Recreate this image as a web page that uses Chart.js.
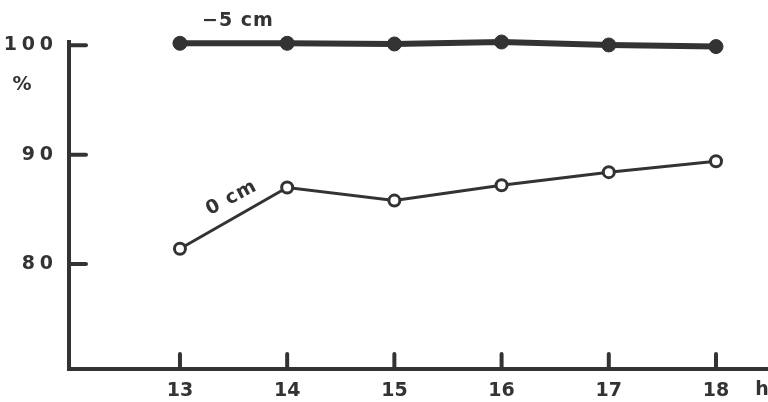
<!DOCTYPE html>
<html>
<head>
<meta charset="utf-8">
<script src="https://cdn.jsdelivr.net/npm/chart.js@4/dist/chart.umd.min.js"></script>
<style>
  html, body { margin: 0; padding: 0; background: #fff; }
  #c { display: block; }
</style>
</head>
<body>
<canvas id="c" width="768" height="402"></canvas>
<script>
// Hour of day (x) and relative values in percent (y) for two depths
const hours = [13, 14, 15, 16, 17, 18];
const depthMinus5 = [100.18, 100.18, 100.12, 100.3, 100.03, 99.88];
const depth0 = [81.4, 87.0, 85.8, 87.2, 88.4, 89.4];
const yTickValues = [80, 90, 100];
const seriesNames = ['\u22125 cm', '0 cm'];
const yUnit = '%';
const xUnit = 'h';

const INK = '#333333';
const FONT = '"DejaVu Sans", sans-serif';

const toPoints = vals => hours.map((h, i) => ({ x: h, y: vals[i] }));

// Inward tick marks plus the hand-placed series and unit labels
const annotations = {
  id: 'annotations',
  afterDraw(chart) {
    const { ctx, scales: { x, y } } = chart;
    ctx.save();
    ctx.strokeStyle = INK;
    ctx.lineWidth = 4;
    ctx.lineCap = 'round';
    hours.forEach(h => {
      const px = x.getPixelForValue(h);
      ctx.beginPath();
      ctx.moveTo(px, y.bottom);
      ctx.lineTo(px, y.bottom - 15);
      ctx.stroke();
    });
    yTickValues.forEach(v => {
      const py = y.getPixelForValue(v);
      ctx.beginPath();
      ctx.moveTo(x.left, py);
      ctx.lineTo(x.left + 17, py);
      ctx.stroke();
    });

    ctx.fillStyle = INK;
    ctx.font = 'bold 19px ' + FONT;
    ctx.textAlign = 'center';
    ctx.textBaseline = 'middle';
    ctx.letterSpacing = '1px';

    // top series name, above its first segment
    const p0x = x.getPixelForValue(hours[0]);
    const p0y = y.getPixelForValue(depthMinus5[0]);
    ctx.fillText(seriesNames[0], p0x + 58, p0y - 22);

    // lower series name, along its first segment
    const ax = x.getPixelForValue(hours[0]), ay = y.getPixelForValue(depth0[0]);
    const bx = x.getPixelForValue(hours[1]), by = y.getPixelForValue(depth0[1]);
    const ang = Math.atan2(by - ay, bx - ax);
    const mx = (ax + bx) / 2, my = (ay + by) / 2;
    ctx.save();
    ctx.translate(mx - 2, my - 20);
    ctx.rotate(ang + 0.03);
    ctx.fillText(seriesNames[1], 0, 0);
    ctx.restore();

    ctx.letterSpacing = '0px';
    ctx.fillText(yUnit, 22, 85);
    ctx.fillText(xUnit, 762, y.bottom + 21);
    ctx.restore();
  }
};

new Chart(document.getElementById('c'), {
  type: 'line',
  data: {
    datasets: [
      {
        label: seriesNames[0],
        data: toPoints(depthMinus5),
        borderColor: INK,
        borderWidth: 6,
        pointRadius: 7,
        pointBackgroundColor: INK,
        pointBorderColor: INK,
        pointBorderWidth: 1,
        tension: 0,
        clip: false
      },
      {
        label: seriesNames[1],
        data: toPoints(depth0),
        borderColor: INK,
        borderWidth: 3,
        pointRadius: 5.5,
        pointBackgroundColor: '#ffffff',
        pointBorderColor: INK,
        pointBorderWidth: 3,
        tension: 0,
        clip: false
      }
    ]
  },
  options: {
    responsive: false,
    animation: false,
    layout: { autoPadding: false, padding: { top: 42, right: 0, left: 0, bottom: 0 } },
    plugins: { legend: { display: false }, tooltip: { enabled: false } },
    scales: {
      x: {
        type: 'linear',
        min: 11.965,
        max: 18.485,
        afterFit(s) { s.height = 33; },
        afterBuildTicks(s) { s.ticks = hours.map(v => ({ value: v })); },
        grid: { display: false, drawTicks: false },
        border: { display: true, width: 4, color: INK },
        ticks: {
          padding: 11,
          color: INK,
          font: { family: FONT, size: 19, weight: 'bold' },
          callback: v => String(v)
        }
      },
      y: {
        type: 'linear',
        min: 70.4,
        max: 100.3,
        afterFit(s) { s.width = 69; },
        afterBuildTicks(s) { s.ticks = yTickValues.map(v => ({ value: v })); },
        grid: { display: false, drawTicks: false },
        border: { display: true, width: 4, color: INK },
        ticks: {
          padding: 16,
          color: INK,
          font: { family: FONT, size: 19, weight: 'bold' },
          callback: v => String(v).split('').join('\u2005')
        }
      }
    }
  },
  plugins: [annotations]
});
</script>
</body>
</html>
